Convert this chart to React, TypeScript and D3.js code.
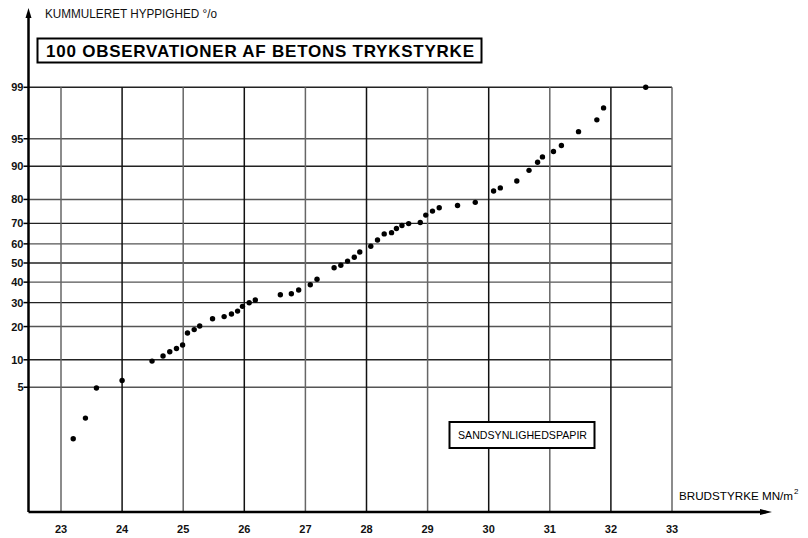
import React from "react";
import * as d3 from "d3";

const strength = [
  23.2, 23.4, 23.58, 24.0, 24.49, 24.67, 24.78, 24.89, 24.99, 25.07,
  25.18, 25.27, 25.48, 25.67, 25.79, 25.89, 25.97, 26.08, 26.18, 26.59,
  26.77, 26.89, 27.08, 27.19, 27.47, 27.58, 27.69, 27.8, 27.89, 28.07,
  28.18, 28.29, 28.41, 28.49, 28.58, 28.69, 28.88, 28.97, 29.08, 29.19,
  29.49, 29.78, 30.08, 30.19, 30.46, 30.66, 30.8, 30.88, 31.06, 31.19,
  31.47, 31.77, 31.88, 32.57,
];
const cumPct = [
  1.0, 2.0, 4.9, 6.0, 9.7, 10.9, 12.0, 12.9, 13.9, 17.7,
  18.9, 20.2, 23.0, 23.9, 25.0, 26.2, 28.3, 29.9, 31.2, 33.7,
  34.2, 36.0, 38.7, 41.5, 47.5, 48.8, 51.0, 53.0, 55.8, 58.8,
  62.0, 65.0, 65.6, 67.6, 69.0, 69.9, 70.4, 73.7, 75.4, 76.8,
  77.7, 78.9, 83.0, 84.0, 86.1, 89.0, 90.9, 92.0, 93.0, 94.0,
  95.9, 97.1, 98.0, 99.0,
];
const xTicks = [23, 24, 25, 26, 27, 28, 29, 30, 31, 32, 33];
const yTicks = [5, 10, 20, 30, 40, 50, 60, 70, 80, 90, 95, 99];

const title = "100 OBSERVATIONER AF BETONS TRYKSTYRKE";
const yTitle = "KUMMULERET HYPPIGHED °/o";
const xTitle = "BRUDSTYRKE MN/m";
const paperLabel = "SANDSYNLIGHEDSPAPIR";

// inverse normal CDF (Acklam)
function probit(p: number): number {
  const a = [-3.969683028665376e1, 2.209460984245205e2, -2.759285104469687e2, 1.38357751867269e2, -3.066479806614716e1, 2.506628277459239];
  const b = [-5.447609879822406e1, 1.615858368580409e2, -1.556989798598866e2, 6.680131188771972e1, -1.328068155288572e1];
  const c = [-7.784894002430293e-3, -3.223964580411365e-1, -2.400758277161838, -2.549732539343734, 4.374664141464968, 2.938163982698783];
  const d = [7.784695709041462e-3, 3.224671290700398e-1, 2.445134176366613, 3.75440835777686];
  const plow = 0.02425;
  if (p < plow) {
    const q = Math.sqrt(-2 * Math.log(p));
    return (((((c[0] * q + c[1]) * q + c[2]) * q + c[3]) * q + c[4]) * q + c[5]) / ((((d[0] * q + d[1]) * q + d[2]) * q + d[3]) * q + 1);
  }
  if (p <= 1 - plow) {
    const q = p - 0.5;
    const r = q * q;
    return ((((((a[0] * r + a[1]) * r + a[2]) * r + a[3]) * r + a[4]) * r + a[5]) * q) / (((((b[0] * r + b[1]) * r + b[2]) * r + b[3]) * r + b[4]) * r + 1);
  }
  const q = Math.sqrt(-2 * Math.log(1 - p));
  return -(((((c[0] * q + c[1]) * q + c[2]) * q + c[3]) * q + c[4]) * q + c[5]) / ((((d[0] * q + d[1]) * q + d[2]) * q + d[3]) * q + 1);
}

export default function App() {
  const W = 808;
  const H = 538;
  const axisX = 28.5;
  const axisY = 512;
  const x = d3.scaleLinear().domain([23, 33]).range([61, 672]);
  const z = d3.scaleLinear().domain([0, probit(0.99)]).range([263, 87.3]);
  const y = (pct: number) => z(probit(pct / 100));
  const top = y(99);
  const font = "'Liberation Sans', Arial, sans-serif";

  return (
    <svg
      width={W}
      height={H}
      viewBox={`0 0 ${W} ${H}`}
      style={{ position: "absolute", left: 0, top: 0, background: "#fff" }}
      fontFamily={font}
    >
      <rect x={0} y={0} width={W} height={H} fill="#fff" />
      {/* horizontal grid */}
      {yTicks.map((t, i) => (
        <line
          key={"h" + t}
          x1={axisX}
          x2={x(33)}
          y1={y(t)}
          y2={y(t)}
          stroke={i % 2 === 0 ? "#555" : "#222"}
          strokeWidth={1.4}
        />
      ))}
      {/* vertical grid */}
      {xTicks.map((t, i) => (
        <line
          key={"v" + t}
          x1={x(t)}
          x2={x(t)}
          y1={top}
          y2={axisY}
          stroke={i % 2 === 0 ? "#666" : "#111"}
          strokeWidth={1.5}
        />
      ))}
      {/* axes */}
      <line x1={axisX} x2={axisX} y1={14} y2={axisY} stroke="#000" strokeWidth={2.5} />
      <path d={`M${axisX - 3},${18} L${axisX},${8} L${axisX + 3},${18} Z`} fill="#000" />
      <line x1={axisX} x2={766} y1={axisY} y2={axisY} stroke="#000" strokeWidth={2.5} />
      <path d={`M760,${axisY - 3} L772,${axisY} L760,${axisY + 3} Z`} fill="#000" />

      {/* y ticks & labels */}
      {yTicks.map((t) => (
        <g key={"yl" + t}>
          <line x1={axisX - 5} x2={axisX} y1={y(t)} y2={y(t)} stroke="#000" strokeWidth={1.5} />
          <text
            x={axisX - 5}
            y={y(t)}
            dy="0.36em"
            textAnchor="end"
            fontSize={11}
            fontWeight="bold"
            fill="#111"
          >
            {t}
          </text>
        </g>
      ))}
      {/* x labels */}
      {xTicks.map((t) => (
        <text
          key={"xl" + t}
          x={x(t)}
          y={533}
          textAnchor="middle"
          fontSize={11}
          fontWeight="bold"
          fill="#111"
        >
          {t}
        </text>
      ))}

      {/* points */}
      {strength.map((v, i) => (
        <circle key={"p" + i} cx={x(v)} cy={y(cumPct[i])} r={2.7} fill="#000" />
      ))}

      {/* titles */}
      <text x={45} y={18} fontSize={12} fill="#111" textLength={172} lengthAdjust="spacingAndGlyphs">
        {yTitle}
      </text>
      <rect x={37.5} y={38.5} width={444} height={24} fill="#fff" stroke="#000" strokeWidth={2} />
      <text x={46} y={57} fontSize={17} fontWeight="bold" fill="#000" textLength={428} lengthAdjust="spacing">
        {title}
      </text>

      <rect x={449.5} y={422} width={145} height={26} fill="#fff" stroke="#000" strokeWidth={2} />
      <text x={458} y={439} fontSize={10.5} fill="#000" textLength={129} lengthAdjust="spacingAndGlyphs">
        {paperLabel}
      </text>

      <text x={679} y={500} fontSize={11} fill="#000" textLength={114} lengthAdjust="spacingAndGlyphs">
        {xTitle}
      </text>
      <text x={794} y={494} fontSize={8} fill="#000">2</text>
    </svg>
  );
}
